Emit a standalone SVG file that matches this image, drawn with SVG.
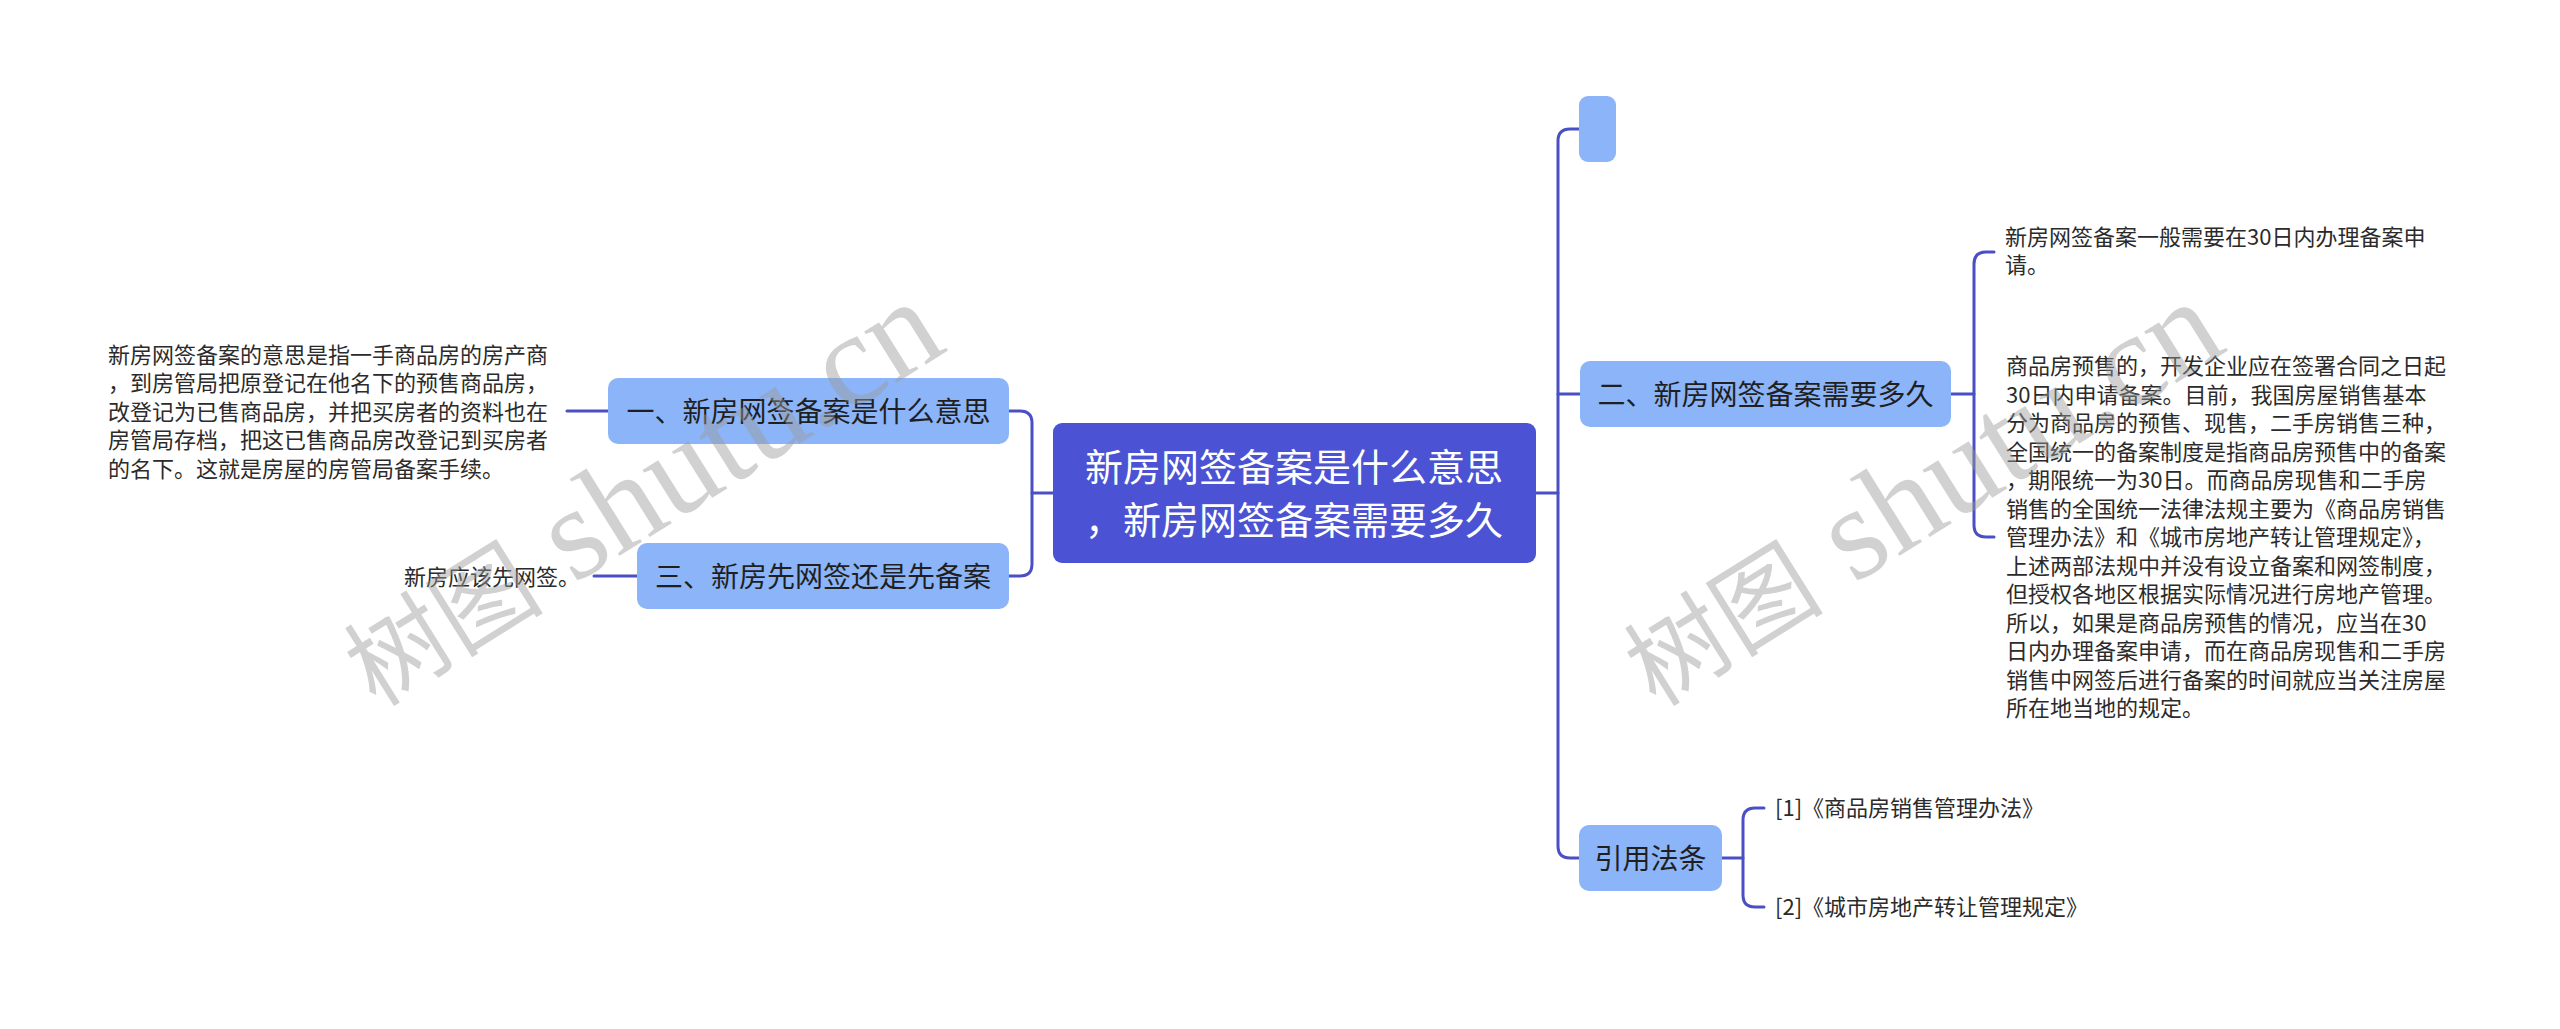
<svg xmlns="http://www.w3.org/2000/svg" width="2560" height="1029" viewBox="0 0 2560 1029">
<defs>
<style>
.bg{fill:#ffffff}
.link{fill:none;stroke:#4a50c4;stroke-width:3;stroke-linecap:round;stroke-linejoin:round}
.root{fill:#4b53d4}
.sub{fill:#8cb4f8}
.rootText{font-family:"Noto Sans CJK SC","Noto Sans",sans-serif;font-size:38px;fill:#ffffff;text-anchor:middle}
.subText{font-family:"Noto Sans CJK SC","Noto Sans",sans-serif;font-size:28px;fill:#1f1f1f;text-anchor:middle}
.leaf{font-family:"Noto Sans CJK SC","Noto Sans",sans-serif;font-size:22px;fill:#2b2b2b}
.wm{font-family:"Liberation Serif","Noto Sans CJK SC",serif;font-size:100px;fill:#999999;fill-opacity:0.45}
.wmL{font-size:132px}
</style>
</defs>
<rect class="bg" x="0" y="0" width="2560" height="1029"/>

<g id="connectors">
  <path class="link" d="M1053,493 H1032"/>
  <path class="link" d="M1009,411 H1020 Q1032,411 1032,423 V564 Q1032,576 1020,576 H1009"/>
  <path class="link" d="M567,411 H608"/>
  <path class="link" d="M594,576 H637"/>
  <path class="link" d="M1536,493 H1558"/>
  <path class="link" d="M1579,129 H1570 Q1558,129 1558,141 V846 Q1558,858 1570,858 H1579"/>
  <path class="link" d="M1558,394 H1580"/>
  <path class="link" d="M1951,394 H1974"/>
  <path class="link" d="M1994,252 H1986 Q1974,252 1974,264 V525 Q1974,537 1986,537 H1994"/>
  <path class="link" d="M1722,858 H1743"/>
  <path class="link" d="M1764,808 H1755 Q1743,808 1743,820 V895 Q1743,907 1755,907 H1764"/>
</g>

<g id="root">
  <rect class="root" x="1053" y="423" width="483" height="140" rx="9"/>
  <text class="rootText" x="1294" y="481">新房网签备案是什么意思</text>
  <text class="rootText" x="1294" y="534">，新房网签备案需要多久</text>
</g>

<g id="node-1">
  <rect class="sub" x="608" y="378" width="401" height="66" rx="10"/>
  <text class="subText" x="808.5" y="421.5">一、新房网签备案是什么意思</text>
</g>
<g id="leaf-1">
  <text class="leaf" x="108" y="363">新房网签备案的意思是指一手商品房的房产商</text>
  <text class="leaf" x="108" y="391">，到房管局把原登记在他名下的预售商品房，</text>
  <text class="leaf" x="108" y="420">改登记为已售商品房，并把买房者的资料也在</text>
  <text class="leaf" x="108" y="448">房管局存档，把这已售商品房改登记到买房者</text>
  <text class="leaf" x="108" y="477">的名下。这就是房屋的房管局备案手续。</text>
</g>

<g id="node-3">
  <rect class="sub" x="637" y="543" width="372" height="66" rx="10"/>
  <text class="subText" x="823" y="586.5">三、新房先网签还是先备案</text>
</g>
<g id="leaf-3">
  <text class="leaf" x="404" y="585">新房应该先网签。</text>
</g>

<g id="node-empty">
  <rect class="sub" x="1579" y="96" width="37" height="66" rx="9"/>
</g>

<g id="node-2">
  <rect class="sub" x="1580" y="361" width="371" height="66" rx="10"/>
  <text class="subText" x="1765.5" y="404.5">二、新房网签备案需要多久</text>
</g>
<g id="leaf-2a">
  <text class="leaf" x="2005" y="245">新房网签备案一般需要在30日内办理备案申</text>
  <text class="leaf" x="2005" y="273">请。</text>
</g>
<g id="leaf-2b">
  <text class="leaf" x="2006" y="374">商品房预售的，开发企业应在签署合同之日起</text>
  <text class="leaf" x="2006" y="402.5">30日内申请备案。目前，我国房屋销售基本</text>
  <text class="leaf" x="2006" y="431">分为商品房的预售、现售，二手房销售三种，</text>
  <text class="leaf" x="2006" y="459.5">全国统一的备案制度是指商品房预售中的备案</text>
  <text class="leaf" x="2006" y="488">，期限统一为30日。而商品房现售和二手房</text>
  <text class="leaf" x="2006" y="516.5">销售的全国统一法律法规主要为《商品房销售</text>
  <text class="leaf" x="2006" y="545">管理办法》和《城市房地产转让管理规定》，</text>
  <text class="leaf" x="2006" y="573.5">上述两部法规中并没有设立备案和网签制度，</text>
  <text class="leaf" x="2006" y="602">但授权各地区根据实际情况进行房地产管理。</text>
  <text class="leaf" x="2006" y="630.5">所以，如果是商品房预售的情况，应当在30</text>
  <text class="leaf" x="2006" y="659">日内办理备案申请，而在商品房现售和二手房</text>
  <text class="leaf" x="2006" y="687.5">销售中网签后进行备案的时间就应当关注房屋</text>
  <text class="leaf" x="2006" y="716">所在地当地的规定。</text>
</g>

<g id="node-cite">
  <rect class="sub" x="1579" y="825" width="143" height="66" rx="10"/>
  <text class="subText" x="1650.5" y="868.5">引用法条</text>
</g>
<g id="leaf-cite-1">
  <text class="leaf" x="1775" y="816">[1]《商品房销售管理办法》</text>
</g>
<g id="leaf-cite-2">
  <text class="leaf" x="1775" y="915">[2]《城市房地产转让管理规定》</text>
</g>

<g id="watermarks">
  <text class="wm" transform="translate(376,708) rotate(-32)">树图<tspan class="wmL"> shutu.cn</tspan></text>
  <text class="wm" transform="translate(1656,708) rotate(-32)">树图<tspan class="wmL"> shutu.cn</tspan></text>
</g>
</svg>
